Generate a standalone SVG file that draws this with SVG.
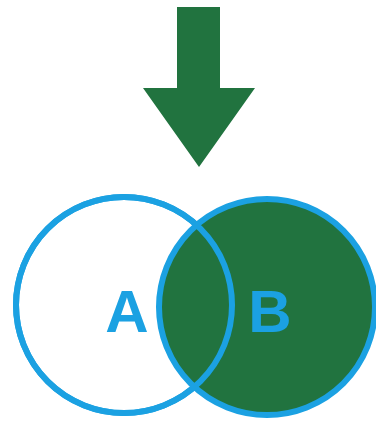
<svg xmlns="http://www.w3.org/2000/svg" width="376" height="421" viewBox="0 0 376 421">
<style>
.ring{stroke:#1ba1e2;stroke-width:6}
.lbl{font-family:"Liberation Sans",Arial,sans-serif;font-weight:bold;font-size:60px;fill:#1ba1e2;text-anchor:middle}
</style>
<rect width="376" height="421" fill="#ffffff"/>
<g id="arrow">
<polygon points="177,7 220,7 220,88 255,88 199,167 143,88 177,88" fill="#21733f"/>
</g>
<g id="setA">
<circle cx="124" cy="305" r="108" fill="#ffffff" class="ring"/>
</g>
<g id="setB">
<circle cx="267" cy="307" r="108" fill="#21733f" class="ring"/>
</g>
<g id="setA-outline">
<circle cx="124" cy="305" r="108" fill="none" class="ring"/>
</g>
<text class="lbl" x="127" y="332">A</text>
<text class="lbl" x="270" y="332">B</text>
</svg>
